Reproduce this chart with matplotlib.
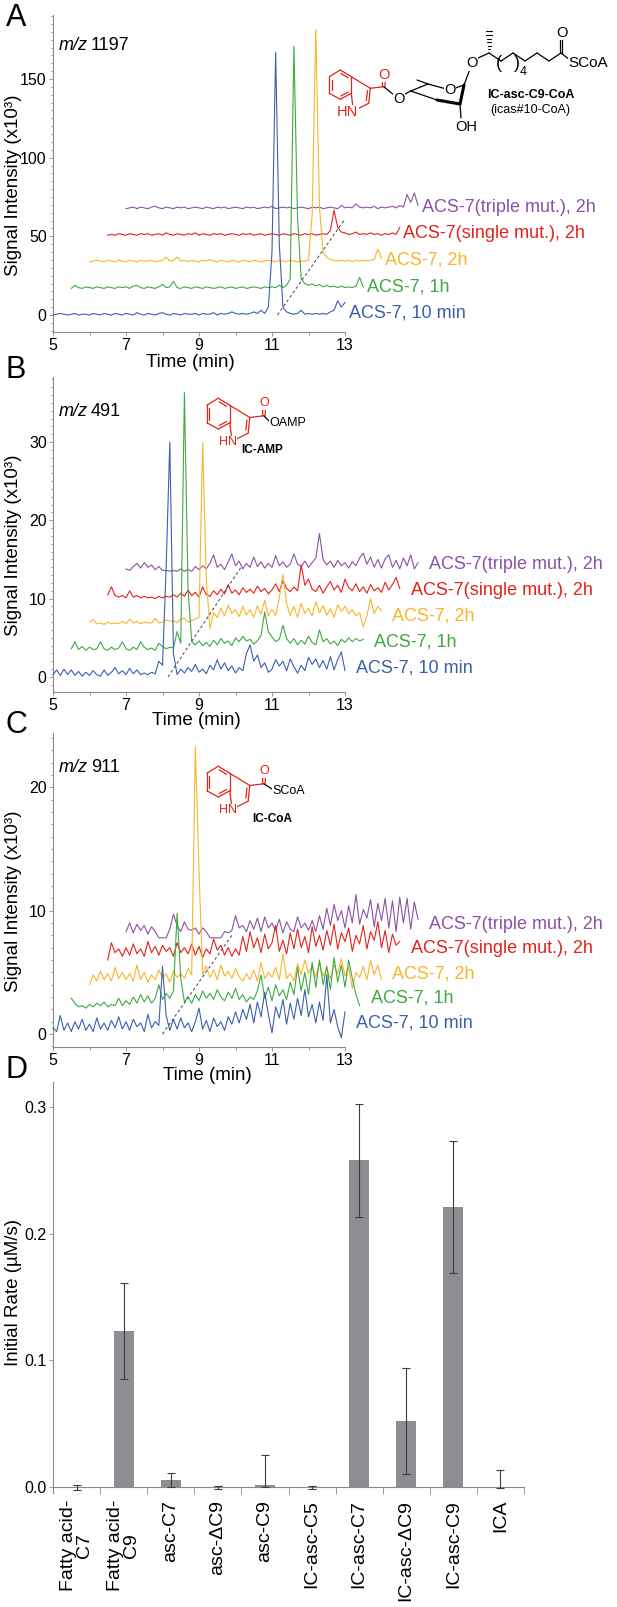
import numpy as np
import matplotlib.pyplot as plt
from matplotlib.ticker import MultipleLocator

plt.rcParams['font.family'] = ['Liberation Sans', 'DejaVu Sans']

# every chromatogram is sampled from 5 min in 0.1 min steps
t_start = 5.0
t_step = 0.1
trace_names = ['ACS-7, 10 min', 'ACS-7, 1h', 'ACS-7, 2h',
               'ACS-7(single mut.), 2h', 'ACS-7(triple mut.), 2h']
trace_colors = ['#3c5fae', '#3fa943', '#f9b52c', '#e2231a', '#8b52a5']

# A: m/z 1197 (x10^3)
a_10min = [0, 0.5, 1, 0.5, 0, 0.5, 1, 0, 0.5, 0.5,
           0, 1, 0.5, 0, 1, 0.5, 0, 1, 0.5, 0,
           1, 0.5, 0, 1.5, 0.5, 0, 1, 0.5, 0, 1,
           1.5, 0.5, 0, 1, 0.5, 0, 1, 0.5, 0.5, 1,
           0, 1, 0.5, 0.5, 1.5, 0, 1, 0.5, 1, 2,
           1, 0.5, 1, 0.5, 1, 2, 1, 3, 1, 5,
           40, 167, 45, 5, 2, 1, 0.5, 1, 3, 0.5,
           1, 0.5, 1, 0.5, 1, 0.5, 2, 3, 9, 5,
           8]
a_1h = [0, 2, 0.5, 0, 1, 0.5, 0, 1, 0.5, 0,
        1, 0.5, 0, 1, 0.5, 1, 0, 1.5, 2, 0.5,
        0, 1, 0.5, 0, 1, 2.5, 0.5, 1, 4.5, 0.5,
        0, 1, 0.5, 0, 1, 0.5, 0, 1, 0.5, 0,
        0.5, 1, 0, 0.5, 1, 0, 0.5, 1, 0, 0.5,
        1, 0.5, 0, 1, 0.5, 1, 0.5, 2, 0.5, 2,
        6, 154, 45, 6, 3, 2, 3, 1.5, 2.5, 1,
        2, 1, 1.5, 0.5, 1.5, 0.5, 1, 0.5, 1.5, 7,
        1]
a_2h = [0, 0.5, 1, 0.5, 0, 1, 0.5, 0, 1, 0.5,
        0, 1, 0.5, 0, 1, 0.5, 0.5, 1, 0, 0.5,
        1, 3, 0.5, 1, 3, 0.5, 1, 0, 1, 0.5,
        0, 1, 0.5, 1.5, 0.5, 0, 1, 0.5, 0, 1,
        0.5, 0, 1, 0.5, 0, 1, 0.5, 0, 0.5, 1,
        0.5, 0, 1, 0.5, 0, 1, 0.5, 0, 0.5, 0.5,
        1, 30, 148, 35, 6, 3, 1.5, 1, 0.5, 1,
        0.5, 1, 0, 1, 0.5, 1, 0.5, 1, 1.5, 8,
        2]
a_single = [0, 0.5, 0, 1, 0.5, 0, 1, 0.5, 0, 1,
            0.5, 1, 0, 0.5, 1, 0, 1.5, 0.5, 0, 1,
            0.5, 0, 1, 0.5, 1.5, 0, 1, 0.5, 0, 1,
            0.5, 1, 0, 0.5, 1, 0.5, 0, 1, 0.5, 1,
            0, 0.5, 1, 0, 0.5, 1, 0.5, 0, 1, 0.5,
            0, 1, 0.5, 0, 1, 0.5, 1, 0, 0.5, 1,
            0.5, 3, 16, 5, 2, 1.5, 0.5, 1, 2, 0.5,
            1, 0.5, 1.5, 0.5, 1, 0, 1, 0.5, 1.5, 0.5,
            5]
a_triple = [0, 0.5, 1, 0, 1, 0.5, 0, 1, 1.5, 0.5,
            0, 1, 0.5, 0, 1, 0.5, 1, 0, 0.5, 1,
            0.5, 0, 1, 0.5, 0, 1, 0.5, 1, 0, 0.5,
            1, 0.5, 0, 1, 0.5, 1, 0, 0.5, 1, 0.5,
            1.5, 0, 0.5, 1, 0.5, 1, 0, 0.5, 1, 0.5,
            0, 1, 0.5, 1, 0, 0.5, 1, 0.5, 0, 2,
            0.5, 1, 0.5, 3, 1, 0.5, 1, 0.5, 1.5, 0,
            1, 0.5, 1, 1.5, 0.5, 2, 1, 9, 4, 10,
            2]

# B: m/z 491 (x10^3)
b_10min = [0.3, 0.9, 0.2, 1.0, 0.3, 0.9, 0.2, 0.7, 0.1, 0.6,
           0.2, 0.8, 0.3, 0.1, 0.9, 0.2, 0.6, 1.2, 0.4, 0.8,
           0.3, 1.1, 0.4, 0.9, 0.3, 0.5, 0.3, 0.6, 0.4, 2.0,
           1.5, 14, 30, 3, 0.3, 1.0, 0.5, 1.2, 0.7, 1.6,
           0.6, 1.0, 0.4, 1.5, 0.9, 2.2, 1.0, 1.8, 0.8, 1.4,
           0.5, 1.2, 0.8, 3.0, 4.1, 2.0, 2.8, 1.2, 1.8, 0.6,
           1.0, 2.2, 1.4, 2.0, 0.8, 2.3, 1.3, 0.5, 1.5, 0.8,
           2.5, 1.6, 2.3, 1.2, 2.1, 1.0, 2.6, 0.9, 2.2, 3.2,
           0.8]
b_1h = [0.3, 1.2, 0.2, 0.6, 0.1, 0.5, 0.2, 0.3, 1.2, 0.3,
        0.1, 0.5, 0.2, 0.4, 1.2, 0.3, 0.1, 0.5, 0.2, 1.2,
        0.5, 0.2, 0.4, 0.1, 1.0, 0.6, 0.3, 0.5, 0.4, 2.5,
        1.0, 33, 8, 1.2, 0.8, 1.3, 0.7, 1.1, 0.6, 1.4,
        0.8, 1.6, 1.0, 1.3, 0.7, 1.7, 1.2, 1.9, 1.3, 1.5,
        0.9, 1.3, 2.0, 5.0, 2.5, 1.8, 1.2, 1.5, 3.3, 1.6,
        1.0, 1.6, 0.8, 1.4, 0.9, 1.9, 1.1, 0.8, 2.7, 1.2,
        1.6, 0.9, 1.3, 0.7, 1.5, 1.1, 1.7, 1.2, 1.6, 1.3,
        1.5]
b_2h = [0.4, 0.7, 0.2, 0.3, 0.1, 0.4, 0.2, 0.3, 0.2, 0.5,
        0.2, 0.8, 0.3, 0.5, 0.2, 0.4, 0.3, 0.3, 0.9, 0.3,
        0.4, 0.7, 0.5, 0.6, 0.3, 0.8, 0.9, 0.4, 0.6, 0.8,
        1.0, 23.3, 6.0, -0.4, 1.6, 1.0, 2.2, 1.2, 2.6, 1.5,
        2.0, 1.1, 2.4, 1.3, 2.0, 1.0, 2.5, 1.4, 3.2, 1.2,
        2.0, 1.3, 3.5, 6.5, 2.8, 1.2, 2.4, 1.0, 2.8, 1.5,
        2.2, 1.2, 3.0, 1.6, 2.5, 1.3, 2.1, 1.0, 2.6, 1.8,
        2.4, 1.5, 2.0, 1.2, 1.6, -0.2, 1.2, 3.4, 1.5, 2.4,
        1.9]
b_single = [0.6, 1.6, 0.5, 0.3, 0.5, 0.2, 1.1, 0.3, 0.5, 0.2,
            0.4, 0.2, 0.3, 0.1, 0.4, 0.2, 0.4, 0.3, 0.6, 0.3,
            0.8, 0.4, 1.2, 0.5, 0.9, 0.3, 1.6, 0.6, 0.4, 1.1,
            0.6, 1.3, 0.7, 1.9, 0.8, 1.2, 0.6, 1.5, 0.9, 1.3,
            0.8, 1.7, 1.0, 1.4, 0.7, 1.2, 2.0, 1.0, 2.4, 1.4,
            1.0, 1.6, 1.1, 4.4, 1.8, 2.6, 1.3, 1.0, 1.8, 0.8,
            1.6, 2.3, 1.2, 1.8, 0.9, 2.6, 1.5, 1.1, 2.0, 1.0,
            1.6, 0.8, 1.9, 1.1, 1.5, 0.9, 2.2, 1.2, 1.9, 2.8,
            1.4]
b_triple = [0.6, 0.4, 0.9, 1.3, 0.7, 1.4, 0.8, 1.1, 0.5, 0.9,
            0.4, 0.4, 0.3, 0.4, 0.3, 0.6, 0.3, 0.5, 0.3, 0.9,
            0.5, 1.0, 0.6, 1.3, 2.4, 0.8, 1.2, 0.5, 1.5, 2.5,
            1.0, 1.6, 0.6, 1.3, 0.8, 2.1, 0.9, 1.5, 0.7, 1.3,
            0.8, 2.3, 1.0, 1.5, 0.8, 1.2, 2.5, 1.2, 0.9, 1.6,
            0.8, 1.4, 2.0, 5.1, 1.8, 1.1, 1.6, 0.8, 1.7, 1.0,
            1.4, 0.7, 1.5, 1.0, 2.0, 2.6, 1.2, 2.1, 0.8, 1.8,
            0.7, 1.9, 2.4, 0.8, 1.7, 0.6, 2.0, 1.0, 2.4, 0.6,
            1.4]

# C: m/z 911 (x10^3)
c_10min = [0.5, 0.2, 1.5, 0.3, 0.9, 0.2, 1.0, 0.4, 1.2, 0.3,
           0.8, 0.2, 1.3, 0.4, 0.9, 0.3, 1.1, 0.5, 1.4, 0.4,
           1.0, 0.3, 1.2, 0.6, 0.9, 0.2, 1.6, 0.5, 1.0, 0.7,
           5.5, 1.5, 0.3, 1.2, 0.4, 1.3, 0.5, 0.9, 0.2, 1.0,
           2.1, 0.4, 1.1, 0.2, 1.3, 0.6, 1.0, 0.3, 1.4, 0.8,
           1.8, 0.9, 2.0, 1.2, 2.4, 0.9, 2.6, 1.4, 3.4, 1.6,
           0.1, 2.2, 1.3, 2.8, 0.8, 2.5, 1.2, 2.9, 1.5, 3.6,
           1.4, 2.4, 0.9, 2.6, 1.1, 4.8, 0.9, 2.0, 0.6, -0.3,
           1.8]
c_1h = [0.9, 0.5, 0.2, 0.3, 0.1, 0.4, 0.2, 0.5, 0.3, 0.6,
        0.2, 0.4, 0.3, 0.9, 0.3, 0.7, 0.4, 1.0, 0.5, 1.2,
        0.6, 1.1, 0.5, 0.9, 2.0, 0.8, 1.3, 0.9, 1.5, 7.8,
        2.5, 0.6, 1.0, 0.5, 1.2, 0.7, 1.5, 0.9, 1.3, 0.8,
        1.6, 1.0, 0.7, 1.4, 0.9, 1.7, 0.8, 1.2, 0.6, 1.0,
        0.8, 1.5, 2.8, 0.9, 1.8, 0.7, 2.0, 1.1, 1.6, 0.8,
        2.2, 1.2, 3.4, 1.5, 3.0, 1.2, 3.8, 1.8, 4.0, 2.0,
        3.5, 1.6, 4.2, 2.2, 3.6, 1.8, 4.0, 2.5, 1.2, 0.3]
c_2h = [0.0, 0.8, 0.3, 1.1, 0.4, 0.9, 0.3, 1.4, 0.5, 1.0,
        0.4, 0.9, 0.3, 1.6, 0.4, 1.0, 0.2, 0.8, 0.4, 1.2,
        0.5, 0.9, 0.2, 1.1, 0.6, 0.9, 0.5, 1.3, 0.8, 19.3,
        9.3, 0.8, 1.5, 0.6, 1.2, 0.4, 1.6, 0.7, 1.1, 0.5,
        1.3, 0.6, 0.3, 0.9, 0.4, 1.2, 0.3, 1.8, 0.5, 1.0,
        0.6, 1.4, 0.4, 2.5, 0.5, 0.9, 0.3, 1.7, 0.8, 2.0,
        0.9, 1.5, 0.6, 1.8, 0.7, 1.3, 0.5, 1.6, 0.9, 2.1,
        0.7, 1.4, -0.3, 1.0, 0.6, 1.5, 0.4, 2.0, 0.8, 1.6,
        0.4]
c_single = [0.0, 1.4, 0.6, 0.9, 0.3, 1.0, 0.4, 1.3, 0.5, 0.9,
            0.3, 1.5, 0.6, 1.1, 0.4, 1.2, 0.7, 1.0, 0.3, 1.4,
            0.6, 1.0, 0.5, 1.3, 0.4, 1.1, 0.2, 0.9, 0.5, 1.7,
            0.8, 1.2, 0.4, 1.0, 0.3, 0.9, 0.4, 1.9, 0.7, 2.3,
            1.0, 1.8, 0.6, 2.1, 0.9, 1.4, 2.8, 0.7, 1.6, 0.5,
            2.2, 0.9, 2.5, 1.0, 1.9, 0.6, 2.7, 1.1, 2.0, 0.8,
            2.4, 1.2, 2.9, 0.9, 2.2, 1.5, 2.6, 0.7, 2.0, 1.3,
            2.8, 0.9, 2.3, 1.6, 3.1, 1.0, 2.4, 0.6, 2.1, 1.2,
            1.5]
c_triple = [0.3, 1.0, 0.2, 0.9, 0.4, 0.8, 0.1, 0.7, 0.3, -0.2,
            -0.2, -0.2, 0.5, 1.7, 0.8, 0.3, 1.1, 0.5, 0.4, 0.6,
            0.1, 0.6, 0.3, -0.2, -0.2, -0.2, -0.2, 0.3, 0.2, 0.4,
            1.6, 0.6, 0.8, 0.3, 1.2, 0.5, 1.4, 0.3, 1.5, 0.6,
            1.0, 0.4, 1.3, 0.2, 1.1, 0.5, 0.3, 1.5, 0.6, 1.0,
            0.4, 1.2, 0.3, 1.6, 0.5, 2.2, 0.8, 2.5, 1.2, 2.0,
            0.6, 2.4, 1.0, 3.3, 0.9, 2.1, 1.4, 2.9, 0.7, 2.6,
            1.2, 3.0, 0.6, 2.8, 0.3, 3.1, 1.0, 3.0, 0.5, 2.7,
            1.3]

# retention-time shift guides (dashed)
guide_a = ([11.15, 13.15], [0, 66])
guide_b = ([8.15, 10.15], [0, 14])
guide_c = ([8.0, 9.9], [0, 8])

# D: initial rates
substrates = ['Fatty acid-\nC7', 'Fatty acid-\nC9', 'asc-C7', 'asc-ΔC9', 'asc-C9',
              'IC-asc-C5', 'IC-asc-C7', 'IC-asc-ΔC9', 'IC-asc-C9', 'ICA']
rates = [-0.001, 0.123, 0.0055, -0.0008, 0.0015, -0.0008, 0.258, 0.052, 0.221, -0.0008]
err_lo = [0.001, 0.038, 0.0055, 0.0007, 0.0015, 0.0007, 0.045, 0.042, 0.052, 0.0]
err_hi = [0.003, 0.038, 0.0058, 0.0015, 0.024, 0.0015, 0.045, 0.042, 0.052, 0.0142]

W, H = 617, 1607
fig = plt.figure(figsize=(W / 100, H / 100), dpi=100)
GREY = '#8a8a8a'
RED = '#e2231a'


def px_axes(left, top, right, bottom):
    return fig.add_axes([left / W, 1 - bottom / H, (right - left) / W, (bottom - top) / H])


def frame(ax):
    for s in ['top', 'right']:
        ax.spines[s].set_visible(False)
    for s in ['left', 'bottom']:
        ax.spines[s].set_color(GREY)
        ax.spines[s].set_linewidth(0.8)
    ax.tick_params(which='both', direction='out', color=GREY, width=0.6,
                   labelsize=11.5, pad=1.5)
    ax.tick_params(which='major', length=3)
    ax.tick_params(which='minor', length=1.8)
    ax.patch.set_alpha(0)


def chromatogram(top, bottom, ylim, yticks, yminor, traces, dy, lab_gap, lab_dy,
                 guide, xlab, ylab_y):
    ax = px_axes(53, top, 345, bottom)
    frame(ax)
    ax.set_xlim(5, 13)
    ax.set_ylim(*ylim)
    ax.set_xticks([5, 7, 9, 11, 13])
    ax.xaxis.set_minor_locator(MultipleLocator(1))
    ax.set_yticks(yticks)
    ax.yaxis.set_minor_locator(MultipleLocator(yminor))
    for i in reversed(range(len(traces))):
        vals = np.asarray(traces[i], dtype=float)
        t = t_start + t_step * np.arange(len(vals)) + 0.5 * i
        ax.plot(t, vals + dy * i, color=trace_colors[i], lw=0.8, clip_on=False, zorder=3)
        ax.text(t[-1] + lab_gap, dy * i + lab_dy, trace_names[i], color=trace_colors[i],
                fontsize=13, ha='left', va='center', clip_on=False)
    ax.plot(guide[0], guide[1], color='#444444', lw=0.7, ls=(0, (3, 2.5)), zorder=4)
    ax.set_xlabel('Time (min)', fontsize=13.5)
    ax.xaxis.set_label_coords(*xlab)
    ax.xaxis.label.set_va('center')
    ax.set_ylabel('Signal Intensity (x10³)', fontsize=13.5)
    ax.yaxis.set_label_coords(-0.134, ylab_y)
    ax.yaxis.label.set_va('center')
    return ax


chromatogram(15, 332, (-10.8, 190.7), [0, 50, 100, 150], 5,
             [a_10min, a_1h, a_2h, a_single, a_triple], 16.9, 0.1, 1.0,
             guide_a, (0.469, -0.096), 0.464)
chromatogram(377, 692, (-1.92, 38.3), [0, 10, 20, 30], 1,
             [b_10min, b_1h, b_2h, b_single, b_triple], 3.3, 0.3, 1.2,
             guide_b, (0.49, -0.092), 0.467)
chromatogram(733, 1047, (-1.05, 24.4), [0, 10, 20], 1,
             [c_10min, c_1h, c_2h, c_single, c_triple], 2.0, 0.3, 0.9,
             guide_c, (0.529, -0.092), 0.465)

# D: bar chart
axd = px_axes(53, 1082, 524, 1493)
frame(axd)
x = np.arange(len(substrates))
axd.bar(x, rates, width=0.42, color='#8d8e92', zorder=2)
axd.errorbar(x, rates, yerr=[err_lo, err_hi], fmt='none', ecolor='#3c3c3c',
             elinewidth=0.8, capsize=3, capthick=0.8, zorder=3)
axd.set_xlim(-0.5, len(substrates) - 0.5)
axd.set_ylim(-0.0047, 0.32)
axd.spines['bottom'].set_position(('data', 0))
axd.set_xticks(np.arange(0.5, len(substrates), 1))
axd.set_xticklabels([])
axd.tick_params(axis='x', length=5)
axd.set_yticks([0, 0.1, 0.2, 0.3])
axd.set_yticklabels(['0.0', '0.1', '0.2', '0.3'])
for i, name in enumerate(substrates):
    axd.text(i, -0.017, name, transform=axd.get_xaxis_transform(), rotation=90,
             ha='center', va='top', fontsize=14, multialignment='center', linespacing=0.95)
axd.set_ylabel('Initial Rate (µM/s)', fontsize=13.5)
axd.yaxis.set_label_coords(-0.083, 0.487)
axd.yaxis.label.set_va('center')

# overlay in pixel coordinates: panel letters, m/z tags, structures
ov = fig.add_axes([0, 0, 1, 1])
ov.set_xlim(0, W)
ov.set_ylim(H, 0)
ov.axis('off')

for letter, yy in zip('ABCD', [18, 370, 725, 1070]):
    ov.text(16, yy, letter, fontsize=22, ha='center', va='center')
for num, yy in [('1197', 45), ('491', 411), ('911', 768)]:
    ov.text(59, yy, 'm/z', fontsize=13, style='italic', ha='left', va='center')
    ov.text(91, yy, num, fontsize=13, ha='left', va='center')

WB = dict(fc='white', ec='none', pad=0.2)


def seg(p, q, color='black', lw=0.9):
    ov.plot([p[0], q[0]], [p[1], q[1]], color=color, lw=lw, solid_capstyle='round')


def inner(p, q, m, color, d=2.6):
    p, q, m = np.array(p), np.array(q), np.array(m)
    e = q - p
    n = np.array([-e[1], e[0]]) / np.hypot(*e)
    if np.dot(m - p, n) < 0:
        n = -n
    seg(p + 0.18 * e + d * n, q - 0.18 * e + d * n, color)


def indole(cx, cy, s, fs):
    P = lambda p: (cx + s * p[0], cy + s * p[1])
    hexa = [P(p) for p in [(0, -15), (11, -8.3), (11, 8.3), (0, 14.3), (-11, 8.3), (-11, -8.3)]]
    ring5 = [P(p) for p in [(11, -8.3), (30, 3.3), (28.4, 18.3), (13, 26), (11, 8.3)]]
    for k in range(6):
        seg(hexa[k], hexa[(k + 1) % 6], RED)
    ctr = P((0, 0))
    for i, j in [(5, 4), (0, 1), (2, 3)]:
        inner(hexa[i], hexa[j], ctr, RED)
    for k in range(4):
        seg(ring5[k], ring5[k + 1], RED)
    inner(ring5[1], ring5[2], np.mean(ring5, axis=0), RED)
    n1 = ring5[3]
    ov.text(n1[0] + 5 * s, n1[1] + 1, 'HN', color=RED, fontsize=fs, ha='right', va='center', bbox=WB)
    cc = np.array(P((43.4, 1.7)))
    seg(ring5[1], cc, RED)
    top = np.array(P((43.6, -6)))
    for off in (-1.3, 1.3):
        seg(cc + [off, 0], top + [off, 0], RED)
    o = P((44, -10))
    ov.text(o[0], o[1], 'O', color=RED, fontsize=fs, ha='center', va='center', bbox=WB)
    return cc


# A: IC-asc-C9-CoA
cc = indole(340.3, 85, 1.0, 10.5)
seg(cc, (399, 99))
ov.text(399.3, 99.3, 'O', fontsize=10.5, ha='center', va='center', bbox=WB)
seg((403, 95), (410.7, 91))
ring = [(410.7, 91), (428, 84), (450, 90), (464, 85), (460, 104), (437, 100)]
seg(ring[0], ring[1])
seg(ring[1], ring[2])
seg(ring[2], ring[3])
seg(ring[3], ring[4], lw=2.2)
seg(ring[4], ring[5], lw=2.2)
seg(ring[5], ring[0])
seg(ring[1], (417, 80))
ov.text(450, 90, 'O', fontsize=10.5, ha='center', va='center', bbox=WB)
seg(ring[4], (461, 118))
ov.text(466, 127, 'OH', fontsize=10.5, ha='center', va='center', bbox=WB)
seg(ring[3], (470, 69))
ov.text(471.7, 63.3, 'O', fontsize=10.5, ha='center', va='center', bbox=WB)
chain = [(476, 59), (489, 53), (501, 61), (513, 53), (525, 61), (537, 53), (549, 61), (561, 53)]
for p, q in zip(chain[:-1], chain[1:]):
    seg(p, q)
for k in range(1, 7):
    yy = 53 - 3.6 * k
    w = 0.6 + 0.45 * k
    seg((489 - w, yy), (489 + w, yy), lw=0.8)
ov.text(499, 63, '(', fontsize=13, ha='center', va='center')
ov.text(517, 63, ')', fontsize=13, ha='center', va='center')
ov.text(523, 72, '4', fontsize=9, ha='center', va='center')
for off in (-1.3, 1.3):
    seg((561 + off, 53), (561 + off, 40))
ov.text(562, 33, 'O', fontsize=10.5, ha='center', va='center', bbox=WB)
seg((561, 53), (570, 60))
ov.text(568, 63, 'SCoA', fontsize=11, ha='left', va='center', bbox=WB)
ov.text(531, 95, 'IC-asc-C9-CoA', fontsize=9, fontweight='bold', ha='center', va='center')
ov.text(530, 110, '(icas#10-CoA)', fontsize=9, ha='center', va='center')

# B: IC-AMP
cc = indole(218.3, 414, 1.05, 9)
seg(cc, (269, 421))
ov.text(269, 423, 'OAMP', fontsize=9, ha='left', va='center', bbox=WB)
ov.text(262, 450, 'IC-AMP', fontsize=8.5, fontweight='bold', ha='center', va='center')

# C: IC-CoA
cc = indole(218.3, 782, 1.05, 9)
seg(cc, (272, 789))
ov.text(272, 791.5, 'SCoA', fontsize=9, ha='left', va='center', bbox=WB)
ov.text(272.5, 819, 'IC-CoA', fontsize=8.5, fontweight='bold', ha='center', va='center')

fig.savefig('out.png', dpi=100)
